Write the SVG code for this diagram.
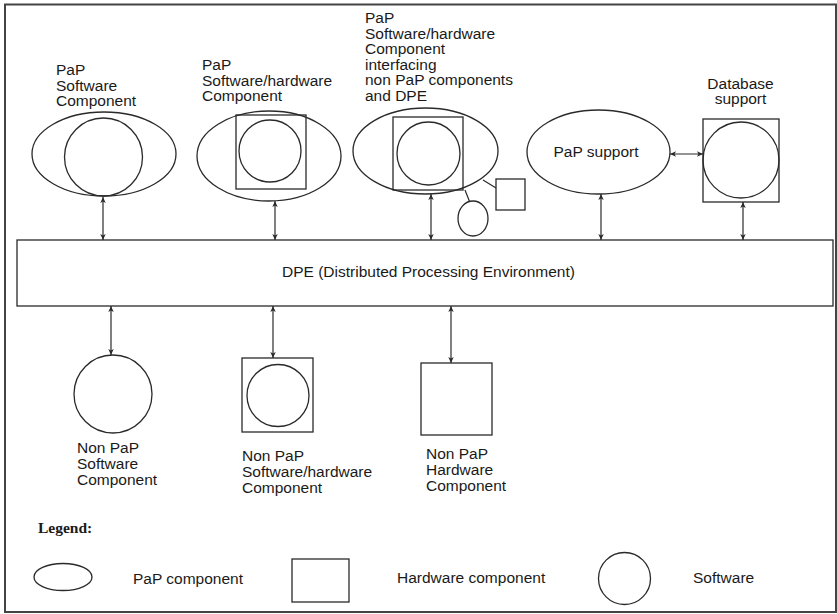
<svg xmlns="http://www.w3.org/2000/svg" width="837" height="614" viewBox="0 0 837 614">
<defs>
<style>
.s{fill:none;stroke:#2a2a2a;stroke-width:1.3}
.t{font-family:"Liberation Sans",Arial,sans-serif;font-size:15.5px;fill:#1a1a1a}
.c{stroke:#2a2a2a;stroke-width:1.2;fill:none;marker-start:url(#ah);marker-end:url(#ah)}
.l{stroke:#2a2a2a;stroke-width:1.2;fill:none}
</style>
<marker id="ah" viewBox="0 0 10 10" refX="10" refY="5" markerWidth="8" markerHeight="6" markerUnits="userSpaceOnUse" orient="auto-start-reverse">
<path d="M0,0.5 L10,5 L0,9.5 L2.5,5 z" fill="#2a2a2a"/>
</marker>
</defs>
<rect x="0" y="0" width="837" height="614" fill="#fff"/>
<rect id="frame" x="5" y="4.5" width="831" height="607.5" fill="none" stroke="#444" stroke-width="2"/>

<g id="pap-sw">
<ellipse class="s" cx="104" cy="154" rx="72" ry="42"/>
<circle class="s" cx="103.5" cy="157" r="39"/>
<text class="t" x="56" y="75">PaP</text>
<text class="t" x="56" y="90.5">Software</text>
<text class="t" x="56" y="106">Component</text>
</g>

<g id="pap-swhw">
<ellipse class="s" cx="269" cy="156" rx="72" ry="45"/>
<rect class="s" x="236" y="115" width="70" height="74"/>
<circle class="s" cx="270" cy="151" r="31"/>
<text class="t" x="202" y="70">PaP</text>
<text class="t" x="202" y="85.5">Software/hardware</text>
<text class="t" x="202" y="101">Component</text>
</g>

<g id="pap-interface">
<ellipse class="s" cx="425.5" cy="151" rx="72.5" ry="43"/>
<rect class="s" x="393" y="117" width="70" height="73"/>
<circle class="s" cx="428.5" cy="153.5" r="31.5"/>
<text class="t" x="365" y="23">PaP</text>
<text class="t" x="365" y="38.5">Software/hardware</text>
<text class="t" x="365" y="54">Component</text>
<text class="t" x="365" y="69.5">interfacing</text>
<text class="t" x="365" y="85">non PaP components</text>
<text class="t" x="365" y="100.5">and DPE</text>
</g>

<g id="ext-hw">
<rect class="s" x="496" y="179" width="29" height="31"/>
</g>
<g id="ext-sw">
<ellipse class="s" cx="473" cy="218.5" rx="15" ry="17.5"/>
</g>

<g id="pap-support">
<ellipse class="s" cx="598.5" cy="152" rx="71.5" ry="42"/>
<text class="t" x="596" y="157" text-anchor="middle">PaP support</text>
</g>

<g id="database">
<rect class="s" x="703" y="119" width="76" height="83"/>
<circle class="s" cx="741" cy="160" r="38"/>
<text class="t" x="740.5" y="88.5" text-anchor="middle">Database</text>
<text class="t" x="740.5" y="104" text-anchor="middle">support</text>
</g>

<g id="dpe">
<rect class="s" x="17" y="240" width="816" height="66"/>
<text class="t" x="282" y="277">DPE (Distributed Processing Environment)</text>
</g>

<g id="nonpap-sw">
<circle class="s" cx="113" cy="394" r="39"/>
<text class="t" x="77" y="453">Non PaP</text>
<text class="t" x="77" y="469">Software</text>
<text class="t" x="77" y="485">Component</text>
</g>

<g id="nonpap-swhw">
<rect class="s" x="242" y="358" width="71" height="74"/>
<circle class="s" cx="278" cy="395.5" r="31"/>
<text class="t" x="242" y="461">Non PaP</text>
<text class="t" x="242" y="477">Software/hardware</text>
<text class="t" x="242" y="493">Component</text>
</g>

<g id="nonpap-hw">
<rect class="s" x="421" y="363" width="71" height="72"/>
<text class="t" x="426" y="459">Non PaP</text>
<text class="t" x="426" y="475">Hardware</text>
<text class="t" x="426" y="491">Component</text>
</g>

<g id="legend">
<text x="38" y="533" style="font-family:'Liberation Serif','Times New Roman',serif;font-weight:bold;font-size:15.5px;fill:#1a1a1a">Legend:</text>
<ellipse class="s" cx="63" cy="577" rx="29" ry="13.5"/>
<text class="t" x="133" y="584">PaP component</text>
<rect class="s" x="292" y="559" width="57" height="43"/>
<text class="t" x="397" y="583">Hardware component</text>
<circle class="s" cx="624.5" cy="578.5" r="26"/>
<text class="t" x="693" y="583">Software</text>
</g>

<g id="connectors">
<line class="c" x1="103" y1="197" x2="103" y2="240"/>
<line class="c" x1="275" y1="201" x2="275" y2="240"/>
<line class="c" x1="431" y1="194" x2="431" y2="240"/>
<line class="c" x1="601" y1="194" x2="601" y2="240"/>
<line class="c" x1="743" y1="202" x2="743" y2="240"/>
<line class="c" x1="670" y1="154" x2="703" y2="154"/>
<line class="c" x1="111" y1="306" x2="111" y2="355"/>
<line class="c" x1="273" y1="306" x2="273" y2="358"/>
<line class="c" x1="451" y1="306" x2="451" y2="363"/>
<line class="l" x1="483" y1="180" x2="496" y2="188"/>
<line class="l" x1="465" y1="190" x2="469.5" y2="201.5"/>
</g>
</svg>
